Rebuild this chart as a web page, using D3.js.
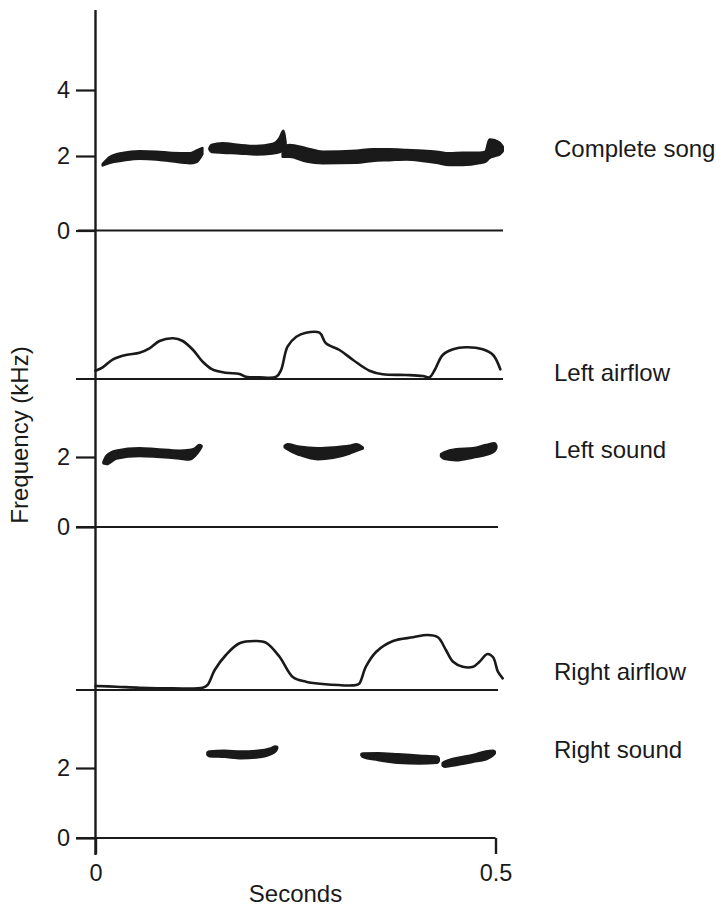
<!DOCTYPE html>
<html>
<head>
<meta charset="utf-8">
<script src="https://cdn.jsdelivr.net/npm/d3@7"></script>
<style>
  html, body { margin: 0; padding: 0; background: #fff; }
  svg { display: block; }
  text { font-family: "Liberation Sans", Arial, Helvetica, sans-serif; fill: #1a1a1a; }
</style>
</head>
<body>
<svg id="chart" width="716" height="907"></svg>
<script>
// ---- Data -------------------------------------------------------------
// Time ticks (s) and frequency ticks (kHz)
const timeTicks = [0, 0.5];
const songFreqTicks = [0, 2, 4];
const soundFreqTicks = [0, 2];
const panelLabels = ["Complete song", "Left airflow", "Left sound", "Right airflow", "Right sound"];

// Sound traces: each syllable is a list of [time s, low kHz, high kHz]
const completeSong = [
  [[0.009, 1.75, 1.78], [0.018, 1.82, 1.97], [0.034, 1.88, 2.09], [0.055, 1.93, 2.14],
   [0.076, 1.91, 2.13], [0.096, 1.86, 2.09], [0.118, 1.81, 2.08], [0.126, 1.84, 2.16],
   [0.1335, 2.06, 2.24]],
  [[0.1425, 2.20, 2.24], [0.145, 2.12, 2.33], [0.159, 2.10, 2.385], [0.18, 2.08, 2.33],
   [0.201, 2.05, 2.30], [0.221, 2.08, 2.36], [0.23, 2.12, 2.54], [0.235, 2.18, 2.76],
   [0.2375, 2.18, 2.42]],
  [[0.234, 1.98, 2.28], [0.2425, 1.98, 2.33], [0.264, 1.85, 2.23], [0.284, 1.81, 2.13],
   [0.326, 1.82, 2.16], [0.346, 1.87, 2.20], [0.3675, 1.89, 2.20], [0.389, 1.91, 2.18],
   [0.409, 1.87, 2.16], [0.426, 1.82, 2.13], [0.4425, 1.76, 2.08], [0.459, 1.76, 2.10],
   [0.48, 1.81, 2.10], [0.4875, 1.85, 2.13], [0.4925, 1.95, 2.50], [0.499, 2.00, 2.48],
   [0.505, 2.05, 2.40], [0.509, 2.15, 2.28]]
];

const leftSound = [
  [[0.010, 1.82, 1.86], [0.014, 1.80, 2.04], [0.026, 1.96, 2.18], [0.055, 2.03, 2.25],
   [0.076, 2.01, 2.22], [0.105, 1.96, 2.18], [0.117, 1.93, 2.20], [0.124, 2.03, 2.24],
   [0.130, 2.20, 2.34], [0.1325, 2.30, 2.32]],
  [[0.2365, 2.28, 2.32], [0.240, 2.22, 2.36], [0.255, 2.06, 2.29], [0.278, 1.94, 2.25],
   [0.297, 1.98, 2.27], [0.3175, 2.10, 2.32], [0.326, 2.18, 2.36], [0.334, 2.24, 2.27]],
  [[0.432, 2.02, 2.08], [0.436, 1.95, 2.13], [0.451, 1.91, 2.22], [0.472, 1.99, 2.25],
   [0.488, 2.06, 2.34], [0.499, 2.18, 2.39], [0.501, 2.26, 2.32]]
];

const rightSound = [
  [[0.140, 2.38, 2.44], [0.1425, 2.34, 2.47], [0.161, 2.32, 2.49], [0.182, 2.28, 2.47],
   [0.203, 2.31, 2.49], [0.219, 2.40, 2.56], [0.225, 2.48, 2.61], [0.227, 2.56, 2.60]],
  [[0.3325, 2.36, 2.40], [0.334, 2.32, 2.41], [0.353, 2.23, 2.42], [0.378, 2.15, 2.39],
   [0.405, 2.13, 2.35], [0.427, 2.15, 2.32], [0.429, 2.20, 2.28]],
  [[0.434, 2.07, 2.14], [0.437, 2.04, 2.18], [0.451, 2.09, 2.28], [0.472, 2.18, 2.37],
   [0.488, 2.25, 2.47], [0.497, 2.37, 2.49], [0.499, 2.42, 2.47]]
];

// Airflow traces: [time s, relative flow]
const leftAirflow = [
  [0, 0.166], [0.009, 0.234], [0.022, 0.394], [0.038, 0.48], [0.055, 0.526], [0.0675, 0.614],
  [0.08, 0.76], [0.097, 0.814], [0.109, 0.76], [0.122, 0.58], [0.134, 0.346], [0.146, 0.194],
  [0.163, 0.126], [0.18, 0.10], [0.188, 0.046], [0.205, 0.034], [0.226, 0.046], [0.232, 0.18],
  [0.240, 0.646], [0.251, 0.846], [0.263, 0.926], [0.28, 0.926], [0.288, 0.714], [0.305, 0.58],
  [0.322, 0.38], [0.3425, 0.166], [0.359, 0.094], [0.388, 0.08], [0.409, 0.06], [0.4175, 0.034],
  [0.424, 0.18], [0.434, 0.48], [0.447, 0.594], [0.463, 0.634], [0.484, 0.594], [0.497, 0.48],
  [0.506, 0.194]
];

const rightAirflow = [
  [0, 0.08], [0.026, 0.066], [0.055, 0.046], [0.097, 0.034], [0.134, 0.046], [0.140, 0.10],
  [0.149, 0.40], [0.163, 0.70], [0.18, 0.934], [0.201, 0.98], [0.213, 0.946], [0.23, 0.666],
  [0.247, 0.254], [0.263, 0.166], [0.284, 0.12], [0.326, 0.10], [0.33, 0.134], [0.338, 0.466],
  [0.351, 0.766], [0.372, 0.98], [0.397, 1.054], [0.415, 1.10], [0.428, 1.054], [0.438, 0.80],
  [0.447, 0.566], [0.459, 0.466], [0.472, 0.466], [0.48, 0.566], [0.490, 0.72], [0.497, 0.654],
  [0.503, 0.366], [0.509, 0.234]
];

// ---- Scales -----------------------------------------------------------
const svg = d3.select("#chart");
const ink = "#1a1a1a";
const fontFamily = "Liberation Sans, Arial, sans-serif";

const x = d3.scaleLinear().domain([0, 0.5]).range([95.5, 495.5]);

const ySong = d3.scaleLinear().domain([0, 2, 4]).range([230.5, 156, 90]);
const yLeftFlow = d3.scaleLinear().domain([0, 1]).range([379, 329]);
const yLeftSound = d3.scaleLinear().domain([0, 2]).range([527, 457]);
const yRightFlow = d3.scaleLinear().domain([0, 1]).range([690, 640]);
const yRightSound = d3.scaleLinear().domain([0, 2]).range([838, 768]);

// ---- Frame ------------------------------------------------------------
// Shared vertical axis running through every panel
svg.append("line")
  .attr("x1", x(0)).attr("x2", x(0))
  .attr("y1", 10).attr("y2", 855)
  .attr("stroke", ink).attr("stroke-width", 2.4);

// Baselines of each panel
const baselines = [
  { y: ySong(0), x1: 78, x2: 503 },
  { y: yLeftFlow(0), x1: 76, x2: 503 },
  { y: yLeftSound(0), x1: 76, x2: 498 },
  { y: yRightFlow(0), x1: 76, x2: 498 },
  { y: yRightSound(0), x1: 76, x2: x(0.5) }
];
svg.selectAll("line.base").data(baselines).join("line")
  .attr("class", "base")
  .attr("x1", d => d.x1).attr("x2", d => d.x2)
  .attr("y1", d => d.y).attr("y2", d => d.y)
  .attr("stroke", ink).attr("stroke-width", 2.2);

// Frequency axes
function freqAxis(scale, ticks) {
  const g = svg.append("g").attr("transform", `translate(${x(0)},0)`)
    .call(d3.axisLeft(scale).tickValues(ticks).tickFormat(d3.format("d"))
      .tickSize(19.5).tickPadding(6));
  g.select(".domain").remove();
  g.selectAll(".tick line").attr("stroke", ink).attr("stroke-width", 2.2);
  g.selectAll(".tick text").attr("font-size", 23.5).attr("fill", ink)
    .attr("font-family", fontFamily);
  return g;
}
freqAxis(ySong, songFreqTicks);
freqAxis(yLeftSound, soundFreqTicks);
freqAxis(yRightSound, soundFreqTicks);

// Time axis
const xAxis = svg.append("g").attr("transform", `translate(0,${yRightSound(0)})`)
  .call(d3.axisBottom(x).tickValues(timeTicks).tickFormat(d => d === 0 ? "0" : String(d))
    .tickSize(16).tickPadding(10));
xAxis.select(".domain").remove();
xAxis.selectAll(".tick line").attr("stroke", ink).attr("stroke-width", 2.4);
xAxis.selectAll(".tick text").attr("font-size", 23.5).attr("fill", ink)
  .attr("font-family", fontFamily);

// ---- Traces -----------------------------------------------------------
function drawSound(syllables, yScale) {
  const area = d3.area()
    .x(d => x(d[0]))
    .y0(d => yScale(d[1]))
    .y1(d => yScale(d[2]))
    .curve(d3.curveMonotoneX);
  svg.append("g").selectAll("path").data(syllables).join("path")
    .attr("d", area)
    .attr("fill", ink)
    .attr("stroke", ink)
    .attr("stroke-width", 2.6)
    .attr("stroke-linejoin", "round");
}

function drawFlow(points, yScale) {
  const line = d3.line()
    .x(d => x(d[0]))
    .y(d => yScale(d[1]))
    .curve(d3.curveCatmullRom.alpha(0.5));
  svg.append("path").datum(points)
    .attr("d", line)
    .attr("fill", "none")
    .attr("stroke", ink)
    .attr("stroke-width", 2.6)
    .attr("stroke-linejoin", "round")
    .attr("stroke-linecap", "round");
}

drawSound(completeSong, ySong);
drawFlow(leftAirflow, yLeftFlow);
drawSound(leftSound, yLeftSound);
drawFlow(rightAirflow, yRightFlow);
drawSound(rightSound, yRightSound);

// ---- Labels -----------------------------------------------------------
const labelY = [157, 381, 458, 680, 758];
svg.selectAll("text.panel").data(panelLabels).join("text")
  .attr("class", "panel")
  .attr("x", 554)
  .attr("y", (d, i) => labelY[i])
  .attr("font-size", 24)
  .text(d => d);

svg.append("text")
  .attr("transform", "translate(27.5,435) rotate(-90)")
  .attr("text-anchor", "middle")
  .attr("font-size", 24)
  .text("Frequency (kHz)");

svg.append("text")
  .attr("x", x(0.25))
  .attr("y", 902)
  .attr("text-anchor", "middle")
  .attr("font-size", 24)
  .text("Seconds");
</script>
</body>
</html>
